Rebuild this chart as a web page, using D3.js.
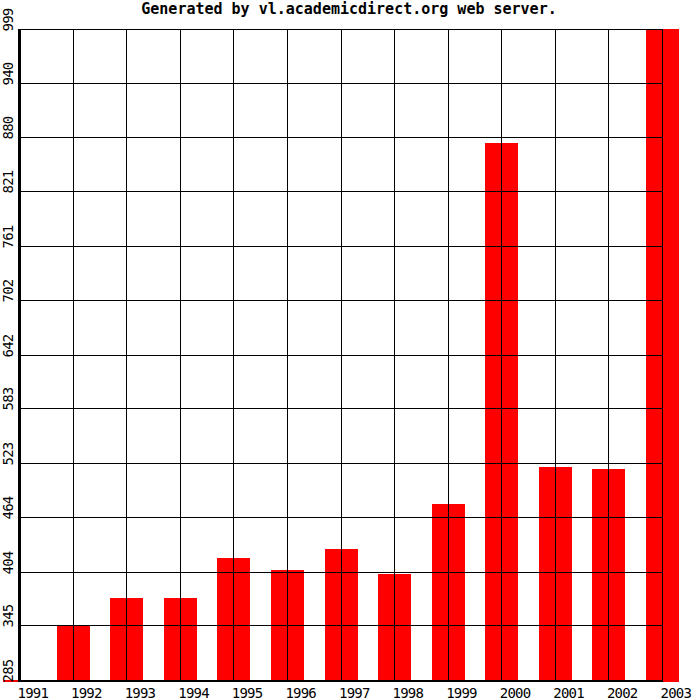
<!DOCTYPE html>
<html>
<head>
<meta charset="utf-8">
<script src="https://cdn.jsdelivr.net/npm/d3@7"></script>
<style>
  body { margin: 0; background: #fff; }
  text { font-family: "DejaVu Sans Mono", monospace; fill: #000; }
  .tick-label { font-size: 14px; letter-spacing: -0.8px; }
</style>
</head>
<body>
<div id="chart"></div>
<script>
var years = [1991, 1992, 1993, 1994, 1995, 1996, 1997, 1998, 1999, 2000, 2001, 2002, 2003];
var values = [286, 346, 376, 375, 419, 406, 429, 402, 479, 875, 519, 517, 1000];
var yTicks = [285, 345, 404, 464, 523, 583, 642, 702, 761, 821, 880, 940, 999];
var title = "Generated by vl.academicdirect.org web server.";

var width = 700
    , height = 700
    , barW = 33
    ;

var svg = d3.select("#chart")
    .append("svg")
    .attr("width", width)
    .attr("height", height);

var x = d3.scaleLinear()
    .domain([1991, 2003])
    .range([19.5, 662.5]);

var y = d3.scaleLinear()
    .domain([285, 999])
    .range([680.5, 29.5]);

function crisp(v) { return Math.round(v - 0.5) + 0.5; }

// bars first, grid goes on top of them
svg.append("g")
    .selectAll("rect")
    .data(values)
    .enter().append("rect")
    .attr("x", function(d, i) { return Math.round(x(years[i]) - barW / 2); })
    .attr("width", barW)
    .attr("y", function(d) { return Math.round(y(d)); })
    .attr("height", function(d) { return Math.max(0, Math.round(y(285)) - Math.round(y(d)) + 1); })
    .attr("fill", "#ff0000");

var grid = svg.append("g")
    .attr("stroke", "#000")
    .attr("stroke-width", 1)
    .attr("shape-rendering", "crispEdges");

grid.selectAll("line.h")
    .data(yTicks.slice(1))
    .enter().append("line")
    .attr("class", "h")
    .attr("x1", x(1991))
    .attr("x2", x(2003) + 0.5)
    .attr("y1", function(d) { return crisp(y(d)); })
    .attr("y2", function(d) { return crisp(y(d)); });

grid.selectAll("line.v")
    .data(years.slice(1))
    .enter().append("line")
    .attr("class", "v")
    .attr("x1", function(d) { return crisp(x(d)); })
    .attr("x2", function(d) { return crisp(x(d)); })
    .attr("y1", y(999))
    .attr("y2", y(285));

// thick axes
svg.append("line")
    .attr("x1", x(1991)).attr("x2", x(1991))
    .attr("y1", y(999) - 0.5).attr("y2", 682)
    .attr("stroke", "#000").attr("stroke-width", 3)
    .attr("shape-rendering", "crispEdges");

svg.append("line")
    .attr("x1", 18).attr("x2", x(2003) + 0.5)
    .attr("y1", 681).attr("y2", 681)
    .attr("stroke", "#000").attr("stroke-width", 2)
    .attr("shape-rendering", "crispEdges");

// y labels, rotated
svg.append("g")
    .selectAll("text")
    .data(yTicks)
    .enter().append("text")
    .attr("class", "tick-label")
    .attr("transform", function(d) { return "translate(13," + (crisp(y(d)) + 2) + ") rotate(-90)"; })
    .attr("text-anchor", "start")
    .text(function(d) { return d; });

// x labels
svg.append("g")
    .selectAll("text")
    .data(years)
    .enter().append("text")
    .attr("class", "tick-label")
    .attr("x", function(d) { return x(d) - 2; })
    .attr("y", 698)
    .attr("text-anchor", "start")
    .text(function(d) { return d; });

svg.append("text")
    .attr("x", 349)
    .attr("y", 14)
    .attr("text-anchor", "middle")
    .style("font-size", "15px")
    .style("font-weight", "bold")
    .text(title);
</script>
</body>
</html>
